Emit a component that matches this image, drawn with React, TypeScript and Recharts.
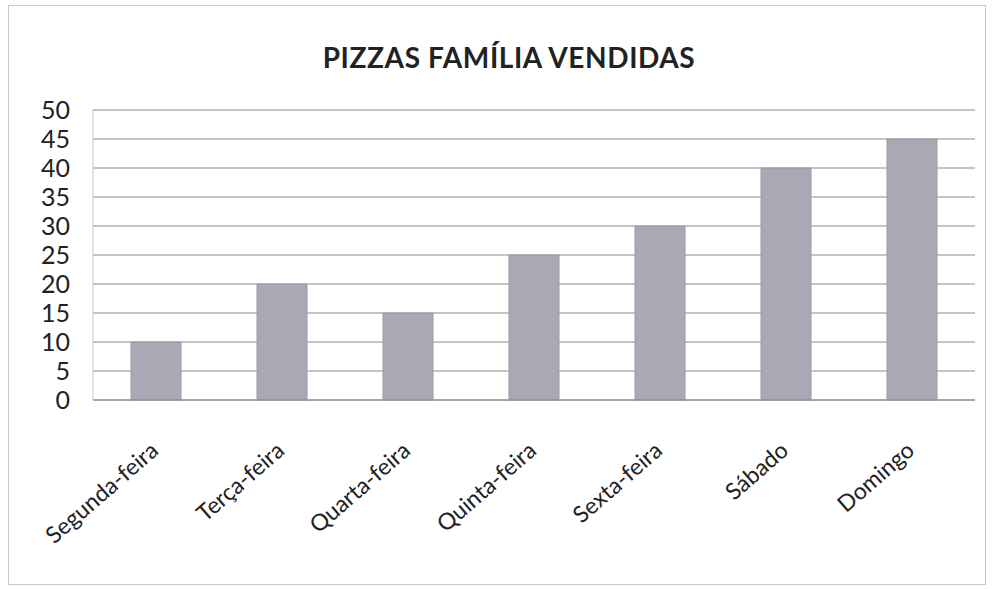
import React from "react";
import { BarChart, Bar, XAxis, YAxis, CartesianGrid } from "recharts";

const categories = ["Segunda-feira", "Terça-feira", "Quarta-feira", "Quinta-feira", "Sexta-feira", "Sábado", "Domingo"];
const sales = [10, 20, 15, 25, 30, 40, 45];
const yTicks = [0, 5, 10, 15, 20, 25, 30, 35, 40, 45, 50];
const title = "PIZZAS FAMÍLIA VENDIDAS";

const data = categories.map((c, i) => ({ name: c, value: sales[i] }));

const FONT = "Lato, 'Open Sans', sans-serif";

const XTick = (props: any) => {
  const { x, y, payload } = props;
  return (
    <g transform={`translate(${x - 2},${y + 38})`}>
      <text
        transform="rotate(-41)"
        textAnchor="end"
        dominantBaseline="central"
        fontSize={23}
        fontFamily={FONT}
        fill="#222"
      >
        {payload.value}
      </text>
    </g>
  );
};

export default function App() {
  return (
    <div style={{ position: "fixed", left: 0, top: 0, width: 994, height: 589, background: "#fff" }}>
      <div
        style={{
          position: "absolute",
          left: 8,
          top: 5,
          width: 976,
          height: 578,
          border: "1px solid #c8c8c8",
        }}
      />
      <div
        style={{
          position: "absolute",
          left: 0,
          top: 40,
          width: 1018,
          textAlign: "center",
          fontFamily: FONT,
          fontWeight: 700,
          fontSize: 28,
          color: "#222",
          letterSpacing: 0.6,
        }}
      >
        {title}
      </div>
      <div style={{ position: "absolute", left: 0, top: 0 }}>
        <BarChart
          width={994}
          height={589}
          data={data}
          margin={{ top: 110, right: 19, bottom: 0, left: 33 }}
          barSize={50}
        >
          <CartesianGrid vertical={false} stroke="#8a8a8a" strokeWidth={1} />
          <XAxis
            dataKey="name"
            axisLine={{ stroke: "#8a8a8a" }}
            tickLine={false}
            tick={<XTick />}
            interval={0}
            height={189}
          />
          <YAxis
            domain={[0, 50]}
            ticks={yTicks}
            interval={0}
            width={60}
            axisLine={{ stroke: "#c8c8c8" }}
            tickLine={false}
            tickSize={0}
            tickMargin={23}
            tick={{ fontSize: 25, fontFamily: FONT, fill: "#222" }}
          />
          <Bar dataKey="value" fill="#a9a9b6" stroke="#9a9aa6" isAnimationActive={false} />
        </BarChart>
      </div>
    </div>
  );
}
